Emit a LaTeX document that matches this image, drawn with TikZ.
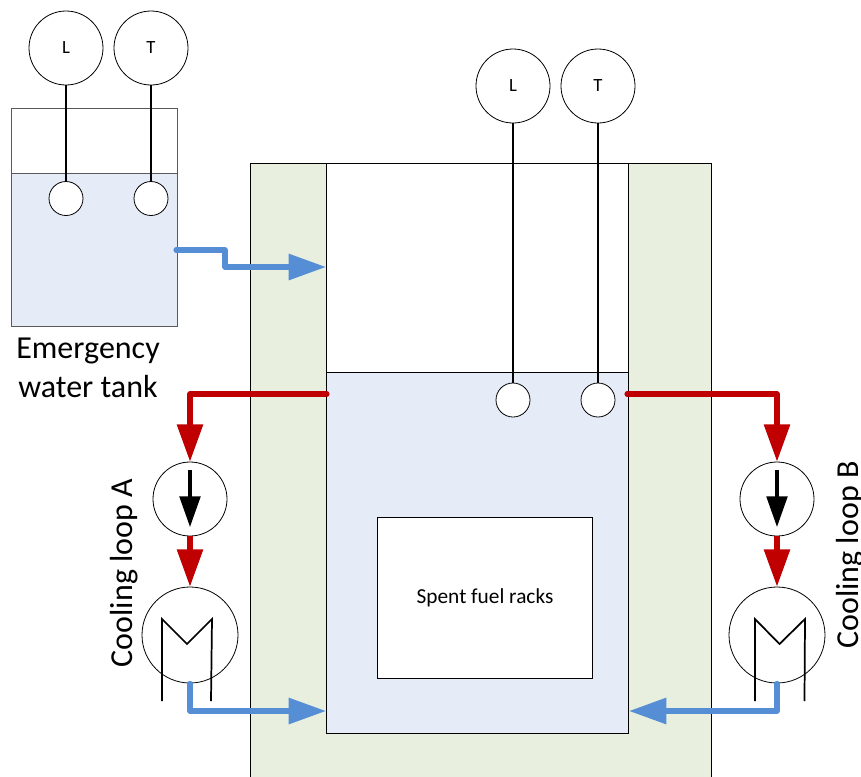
\documentclass[tikz,border=0pt]{standalone}
\usepackage{fontspec}
\setmainfont{Carlito}
\usetikzlibrary{arrows.meta}
\definecolor{pipered}{HTML}{C00000}
\definecolor{pipeblue}{HTML}{558ED5}
\definecolor{waterfill}{HTML}{E6ECF7}
\definecolor{wallfill}{HTML}{E9EFDF}
\definecolor{tankedge}{HTML}{595959}
\tikzset{
    instr/.style={circle,draw,fill=white,line width=0.6pt,minimum size=55.5pt,inner sep=0pt,font=\fontsize{14}{16}\selectfont},
    probe/.style={circle,draw,fill=white,line width=0.6pt,minimum size=25.5pt,inner sep=0pt},
    pump/.style={instr},
    cooler/.style={circle,draw,line width=0.6pt,minimum size=72pt,inner sep=0pt},
    stem/.style={line width=1.3pt},
    hot/.style={pipered,line width=3.8pt,line cap=round,line join=round,-{Triangle[length=28pt,width=19pt]}},
    cold/.style={pipeblue,line width=3.8pt,line cap=round,line join=round,-{Triangle[length=28pt,width=19pt]}},
    tube/.style={line width=1.3pt},
    bigtext/.style={font=\fontsize{24}{29}\selectfont,align=center,inner sep=0pt},
}
\begin{document}
\begin{tikzpicture}[x=0.75pt,y=-0.75pt]
            \useasboundingbox (0,0) rectangle (861,776);
            % Walls and pool
            \draw[fill=wallfill,line width=0.6pt] (250.5,163) rectangle (711,790);
            \draw[fill=white,line width=0.6pt] (326,163) rectangle (628,733);
            \draw[fill=waterfill,line width=0.6pt] (326,372) rectangle (628,733);
            \node[draw,fill=white,line width=0.6pt,minimum width=161.5pt,minimum height=120.5pt,inner sep=0pt,font=\fontsize{16}{19}\selectfont] (racks) at (485,598) {Spent fuel racks};
            % Tank
            \draw[tankedge,fill=waterfill,line width=0.75pt] (11,173) rectangle (177,326);
            \draw[tankedge,line width=0.75pt] (11,173) rectangle (177,108);
            \node[bigtext] (tanklabel) at (88,368) {Emergency\\water tank};
            % Instruments
            \node[instr] (tankL) at (66,48) {L};
            \node[instr] (tankT) at (151,48) {T};
            \node[probe] (tankLp) at (66,198.5) {};
            \node[probe] (tankTp) at (151,198.5) {};
            \draw[stem] (tankL) -- (tankLp);
            \draw[stem] (tankT) -- (tankTp);
            \node[instr] (poolL) at (513,86) {L};
            \node[instr] (poolT) at (598,86) {T};
            \node[probe] (poolLp) at (513,400) {};
            \node[probe] (poolTp) at (598,400) {};
            \draw[stem] (poolL) -- (poolLp);
            \draw[stem] (poolT) -- (poolTp);
            % Emergency feed
            \coordinate (feedout) at (176,250);
            \coordinate (feedb) at (225,250);
            \coordinate (feedc) at (225,267);
            \coordinate (feedin) at (326,267);
            \draw[cold] (feedout) -- (feedb) -- (feedc) -- (feedin);
            % Cooling loop A
            \node[pump] (pumpA) at (190,499) {};
            \node[cooler] (hxA) at (190,635) {};
            \draw[tube] (162,701) -- (162,619) -- (187,644) -- (212,619) -- (211,701);
            \draw[line width=2.5pt,-{Triangle[length=23pt,width=15.5pt]}] (190,470) -- (190,527);
            \coordinate (outA) at (327,394);
            \coordinate (bendA) at (190,394);
            \coordinate (retA) at (190,711);
            \coordinate (inA) at (326,711);
            \draw[hot] (outA) -- (bendA) -- (pumpA);
            \draw[hot,line cap=butt] (pumpA) -- (hxA);
            \draw[cold] (hxA.south) -- (retA) -- (inA);
            \node[bigtext,rotate=90] (labelA) at (124,573) {Cooling loop A};
            % Cooling loop B
            \node[pump] (pumpB) at (777,499) {};
            \node[cooler] (hxB) at (777,635) {};
            \draw[tube] (755,701) -- (755,619) -- (779.5,644) -- (805,619) -- (804.5,701);
            \draw[line width=2.5pt,-{Triangle[length=23pt,width=15.5pt]}] (777,470) -- (777,527);
            \coordinate (outB) at (627,394);
            \coordinate (bendB) at (777,394);
            \coordinate (retB) at (777,711);
            \coordinate (inB) at (629,711);
            \draw[hot] (outB) -- (bendB) -- (pumpB);
            \draw[hot,line cap=butt] (pumpB) -- (hxB);
            \draw[cold] (hxB.south) -- (retB) -- (inB);
            \node[bigtext,rotate=90] (labelB) at (850,555) {Cooling loop B};
        \end{tikzpicture}
\end{document}
